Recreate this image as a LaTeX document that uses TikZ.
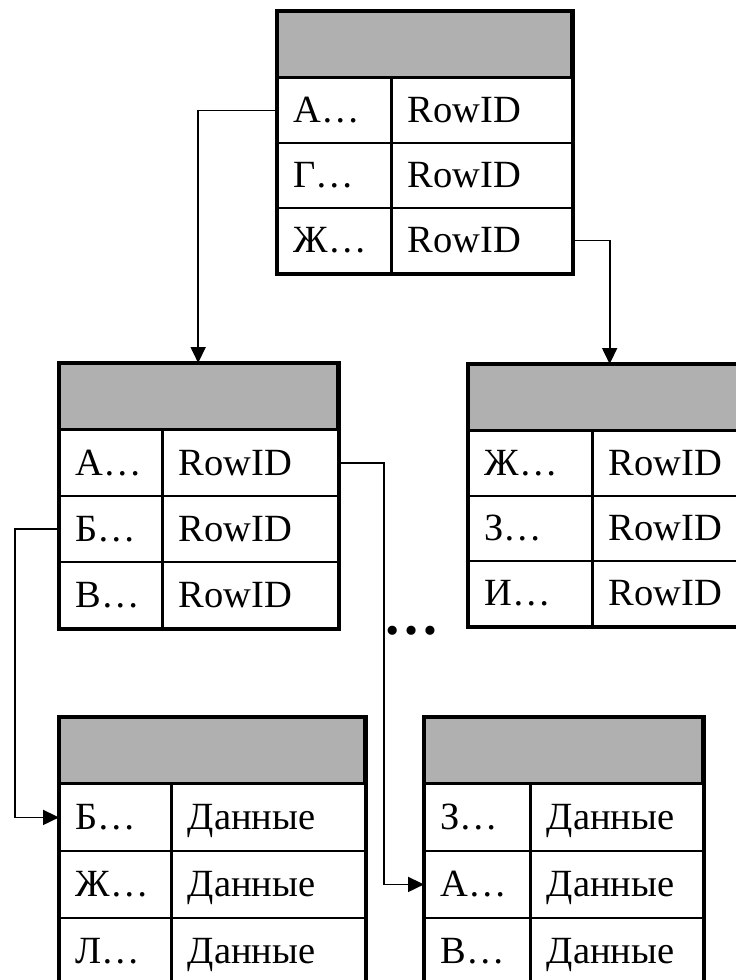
\documentclass[tikz,border=0pt]{standalone}
\usepackage{fontspec}
\setmainfont{Liberation Serif}
\usetikzlibrary{arrows.meta}
\definecolor{headgray}{gray}{0.69}
\tikzset{
  headcell/.style={draw, line width=1.3pt, fill=headgray, inner sep=0pt, minimum height=65pt},
  cell/.style={draw, line width=1.3pt, inner sep=0pt, inner xsep=16pt, text height=25pt,
    text depth=0pt, align=left, font=\fontsize{38.5}{40}\selectfont},
  tableframe/.style={line width=4pt},
  pointer/.style={line width=1.8pt, -{Triangle[length=16pt,width=15pt]}}
}
% name, top left corner, key width, value width, row height, rows
\newcommand{\dbtable}[6]{%
  \pgfmathsetmacro\keytw{#3-32}
  \pgfmathsetmacro\valtw{#4-32}
  \node[headcell, minimum width=#3pt+#4pt, anchor=north west] (#1) at (#2) {};
  \foreach \k/\v [count=\i] in {#6} {
    \node[cell, text width=\keytw pt, minimum height=#5pt, anchor=north west]
      (#1-k\i) at ([yshift={-(\i-1)*#5pt}]#1.south west) {\k};
    \node[cell, text width=\valtw pt, minimum height=#5pt, anchor=west]
      (#1-v\i) at (#1-k\i.east) {\v};
  }
  \draw[tableframe] (#1.north west) rectangle (#1-v3.south east);
}
\begin{document}
\begin{tikzpicture}[x=1pt, y=-1pt]
  \clip (0,0) rectangle (736,980);
  \dbtable{top}{277,11}{113}{180}{65}{А…/RowID, Г…/RowID, Ж…/RowID}
  \dbtable{midl}{59,363}{102}{175}{66}{А…/RowID, Б…/RowID, В…/RowID}
  \dbtable{midr}{468,364}{123}{159}{65}{Ж…/RowID, З…/RowID, И…/RowID}
  \dbtable{botl}{59,717}{111}{193}{67}{Б…/Данные, Ж…/Данные, Л…/Данные}
  \dbtable{botr}{424,717}{105}{172}{67}{З…/Данные, А…/Данные, В…/Данные}
  \node[font=\fontsize{56}{60}\selectfont\bfseries, inner sep=0pt, anchor=base] (more) at (411,634) {…};

  \draw[pointer] (top-k1.west) -| (midl.north);
  \draw[pointer] (top-v3.east) -| (midr.north);
  \draw[pointer] (midl-k2.west) -- ++(-44,0) |- (botl-k1.west);
  \draw[pointer] (midl-v1.east) -- ++(45,0) |- (botr-k2.west);
\end{tikzpicture}
\end{document}
